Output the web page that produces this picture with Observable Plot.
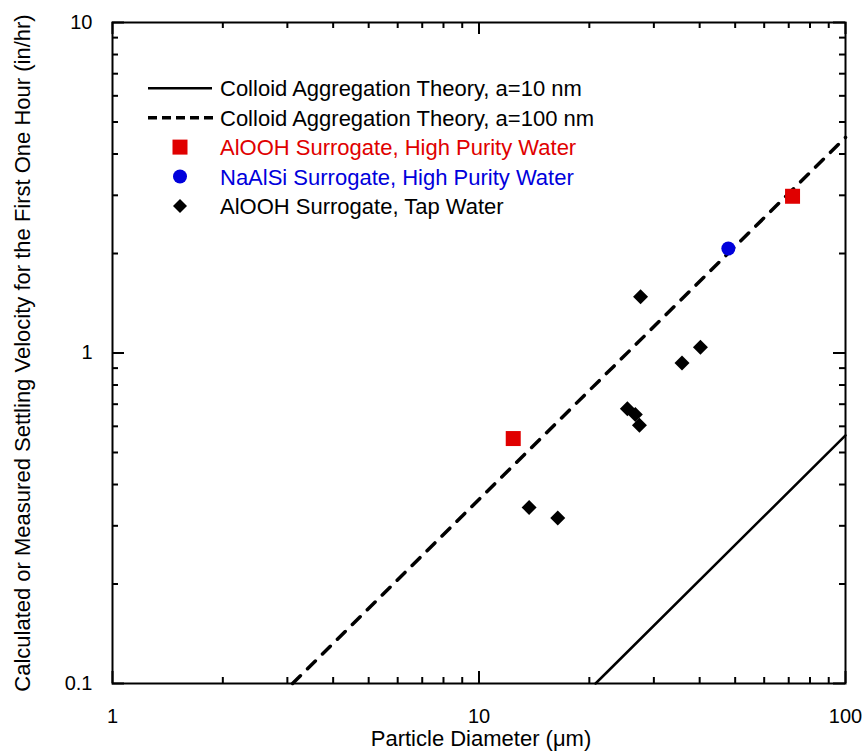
<!DOCTYPE html>
<html>
<head>
<meta charset="utf-8">
<script src="https://cdn.jsdelivr.net/npm/d3@7"></script>
<script src="https://cdn.jsdelivr.net/npm/@observablehq/plot@0.6"></script>
<style>
  html, body { margin: 0; padding: 0; background: #fff; }
  #chart { width: 867px; height: 755px; }
</style>
</head>
<body>
<div id="chart"></div>
<script>
// ---- tick values ----
const xMajor = [1, 10, 100];
const xMinor = [2, 3, 4, 5, 6, 7, 8, 9, 20, 30, 40, 50, 60, 70, 80, 90];
const yMajor = [0.1, 1, 10];
const yMinor = [0.2, 0.3, 0.4, 0.5, 0.6, 0.7, 0.8, 0.9, 2, 3, 4, 5, 6, 7, 8, 9];

// ---- theory lines ----
const theory10X = [20.8, 100];
const theory10Y = [0.1, 0.563];
const theory100X = [3.1, 100];
const theory100Y = [0.1, 4.49];

// ---- measured data ----
const alHpX = [12.4, 71.7];
const alHpY = [0.551, 2.98];
const naX = [47.9];
const naY = [2.07];
const tapX = [27.6, 35.8, 40.2, 25.4, 26.7, 27.4, 13.7, 16.4];
const tapY = [1.48, 0.933, 1.04, 0.678, 0.652, 0.604, 0.341, 0.317];

// ---- legend ----
const legendLabels = [
  "Colloid Aggregation Theory, a=10 nm",
  "Colloid Aggregation Theory, a=100 nm",
  "AlOOH Surrogate, High Purity Water",
  "NaAlSi Surrogate, High Purity Water",
  "AlOOH Surrogate, Tap Water"
];
const legendKinds = ["solid", "dashed", "square", "circle", "diamond"];
const RED = "#e00000", BLUE = "#0000dc";
const legendColors = ["black", "black", RED, BLUE, "black"];

const zip = (xs, ys) => xs.map((x, i) => ({x, y: ys[i]}));

// custom symbols (size = r*r*PI in Plot)
const squareSym = {draw(ctx, size) { const r = Math.sqrt(size / Math.PI); ctx.rect(-r, -r, 2 * r, 2 * r); }};
const diamondSym = {draw(ctx, size) { const r = Math.sqrt(size / Math.PI); ctx.moveTo(0, -r); ctx.lineTo(r, 0); ctx.lineTo(0, r); ctx.lineTo(-r, 0); ctx.closePath(); }};

const W = 867, H = 755, mL = 112, mR = 22, mT = 22, mB = 72;
const fw = W - mL - mR, fh = H - mT - mB;
const MAJ = 12, MIN = 6;

const chart = Plot.plot({
  width: W, height: H,
  marginLeft: mL, marginRight: mR, marginTop: mT, marginBottom: mB,
  style: {fontFamily: "'Liberation Sans', Arial, sans-serif", color: "black", background: "white", overflow: "visible"},
  x: {type: "log", domain: [1, 100]},
  y: {type: "log", domain: [0.1, 10]},
  marks: [
    // ticks (inside) on all four sides
    Plot.ruleX(xMajor, {x: d => d, insetTop: fh - MAJ, stroke: "black", strokeWidth: 2}),
    Plot.ruleX(xMinor, {x: d => d, insetTop: fh - MIN, stroke: "black", strokeWidth: 2}),
    Plot.ruleX(xMajor, {x: d => d, insetBottom: fh - MAJ, stroke: "black", strokeWidth: 2}),
    Plot.ruleX(xMinor, {x: d => d, insetBottom: fh - MIN, stroke: "black", strokeWidth: 2}),
    Plot.ruleY(yMajor, {y: d => d, insetRight: fw - MAJ, stroke: "black", strokeWidth: 2}),
    Plot.ruleY(yMinor, {y: d => d, insetRight: fw - MIN, stroke: "black", strokeWidth: 2}),
    Plot.ruleY(yMajor, {y: d => d, insetLeft: fw - MAJ, stroke: "black", strokeWidth: 2}),
    Plot.ruleY(yMinor, {y: d => d, insetLeft: fw - MIN, stroke: "black", strokeWidth: 2}),
    // tick labels
    Plot.axisX({ticks: xMajor, tickSize: 0, tickPadding: 25, fontSize: 20, tickFormat: d => String(d), label: null}),
    Plot.axisY({ticks: yMajor, tickSize: 0, tickPadding: 20, fontSize: 20, tickFormat: d => String(d), label: null}),
    // axis titles
    Plot.text(["Particle Diameter (\u03bcm)"], {text: d => d, frameAnchor: "bottom", dy: 62, dx: 2, fontSize: 22, textAnchor: "middle"}),
    Plot.text(["Calculated or Measured Settling Velocity for the First One Hour (in/hr)"], {text: d => d, frameAnchor: "left", dx: -90, rotate: -90, fontSize: 22, textAnchor: "middle"}),
    // theory lines
    Plot.line(zip(theory10X, theory10Y), {x: "x", y: "y", stroke: "black", strokeWidth: 2.5}),
    Plot.line(zip(theory100X, theory100Y), {x: "x", y: "y", stroke: "black", strokeWidth: 3.5, strokeDasharray: "11,10"}),
    // data
    Plot.dot(zip(tapX, tapY), {x: "x", y: "y", symbol: diamondSym, r: 7.5, fill: "black", stroke: "none"}),
    Plot.dot(zip(alHpX, alHpY), {x: "x", y: "y", symbol: squareSym, r: 7.5, fill: RED, stroke: "none"}),
    Plot.dot(zip(naX, naY), {x: "x", y: "y", symbol: "circle", r: 7, fill: BLUE, stroke: "none"}),
    Plot.frame({stroke: "black", strokeWidth: 2})
  ]
});

// legend drawn inside the plot area
const g = d3.select(chart).append("g")
  .attr("font-family", "'Liberation Sans', Arial, sans-serif")
  .attr("font-size", 22)
  .attr("text-anchor", "start");
const rowY0 = 88.3, rowStep = 29.4, lx1 = 148, lx2 = 212, sx = 180, tx = 220;
legendLabels.forEach((label, i) => {
  const y = rowY0 + i * rowStep;
  const kind = legendKinds[i], col = legendColors[i];
  if (kind === "solid") {
    g.append("line").attr("x1", lx1).attr("x2", lx2).attr("y1", y).attr("y2", y).attr("stroke", "black").attr("stroke-width", 2.5);
  } else if (kind === "dashed") {
    g.append("line").attr("x1", lx1).attr("x2", lx2 + 1).attr("y1", y).attr("y2", y).attr("stroke", "black").attr("stroke-width", 3.5).attr("stroke-dasharray", "9,5");
  } else if (kind === "square") {
    g.append("rect").attr("x", sx - 7.5).attr("y", y - 7.5).attr("width", 15).attr("height", 15).attr("fill", col);
  } else if (kind === "circle") {
    g.append("circle").attr("cx", sx).attr("cy", y).attr("r", 7).attr("fill", col);
  } else {
    g.append("path").attr("d", `M${sx},${y - 7}L${sx + 7},${y}L${sx},${y + 7}L${sx - 7},${y}Z`).attr("fill", col);
  }
  g.append("text").attr("x", tx).attr("y", y + 8).attr("fill", col).attr("text-anchor", "start").text(label);
});

document.getElementById("chart").appendChild(chart);
</script>
</body>
</html>
